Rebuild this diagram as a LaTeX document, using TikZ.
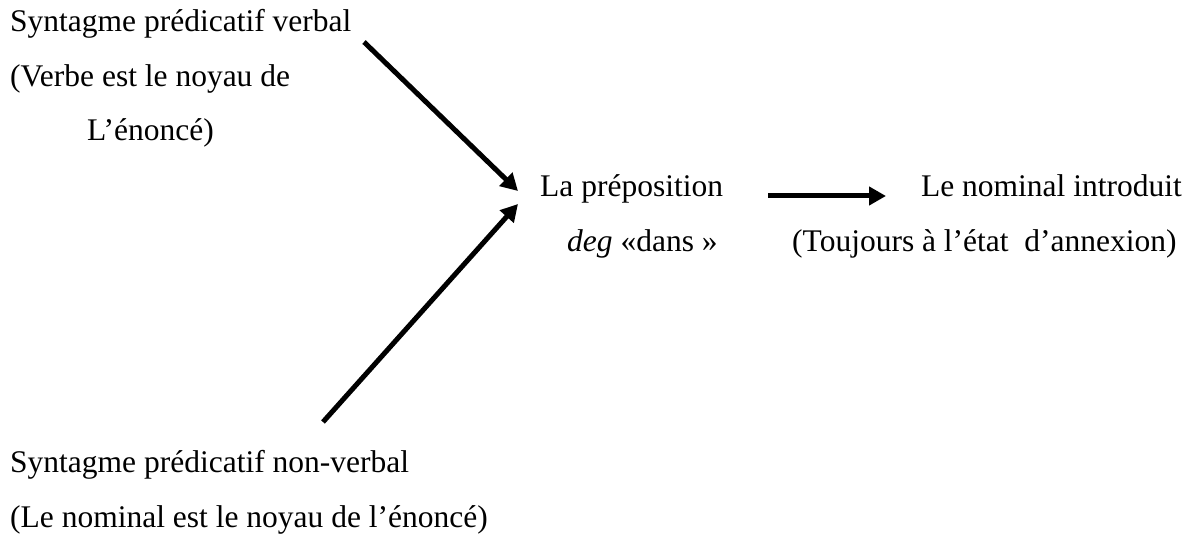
\documentclass[tikz,border=0pt]{standalone}
\usepackage{fontspec}
\setmainfont{Liberation Serif}
\usetikzlibrary{arrows.meta}
\begin{document}
\begin{tikzpicture}[x=1pt,y=-1pt,
  txt/.style={anchor=base west,inner sep=0pt,font=\fontsize{31.5}{38}\selectfont},
  txtr/.style={anchor=base east,inner sep=0pt,font=\fontsize{31.5}{38}\selectfont},
  arr/.style={line width=5pt,-{Triangle[length=17pt,width=18pt]}}]
\useasboundingbox (0,0) rectangle (1194,537);
\node[txt] (v1) at (10,32) {Syntagme prédicatif verbal};
\node[txt] (v2) at (10,87) {(Verbe est le noyau de};
\node[txt] (v3) at (87,141) {L’énoncé)};
\node[txt] (p1) at (540,197) {La préposition};
\node[txt] (p2) at (567,252) {\textit{deg} «dans »};
\node[txtr] (n1) at (1182,197) {Le nominal introduit};
\node[txt] (n2) at (792,252) {(Toujours à l’état \ d’annexion)};
\node[txt] (b1) at (10,472) {Syntagme prédicatif non-verbal};
\node[txt] (b2) at (10,527) {(Le nominal est le noyau de l’énoncé)};
\coordinate (a1s) at (364,42);
\coordinate (a1e) at (518,191);
\coordinate (a2s) at (323,422);
\coordinate (a2e) at (518,204);
\coordinate (a3s) at (768,196);
\coordinate (a3e) at (886,196);
\draw[arr] (a1s) -- (a1e);
\draw[arr] (a2s) -- (a2e);
\draw[arr] (a3s) -- (a3e);
\end{tikzpicture}
\end{document}
